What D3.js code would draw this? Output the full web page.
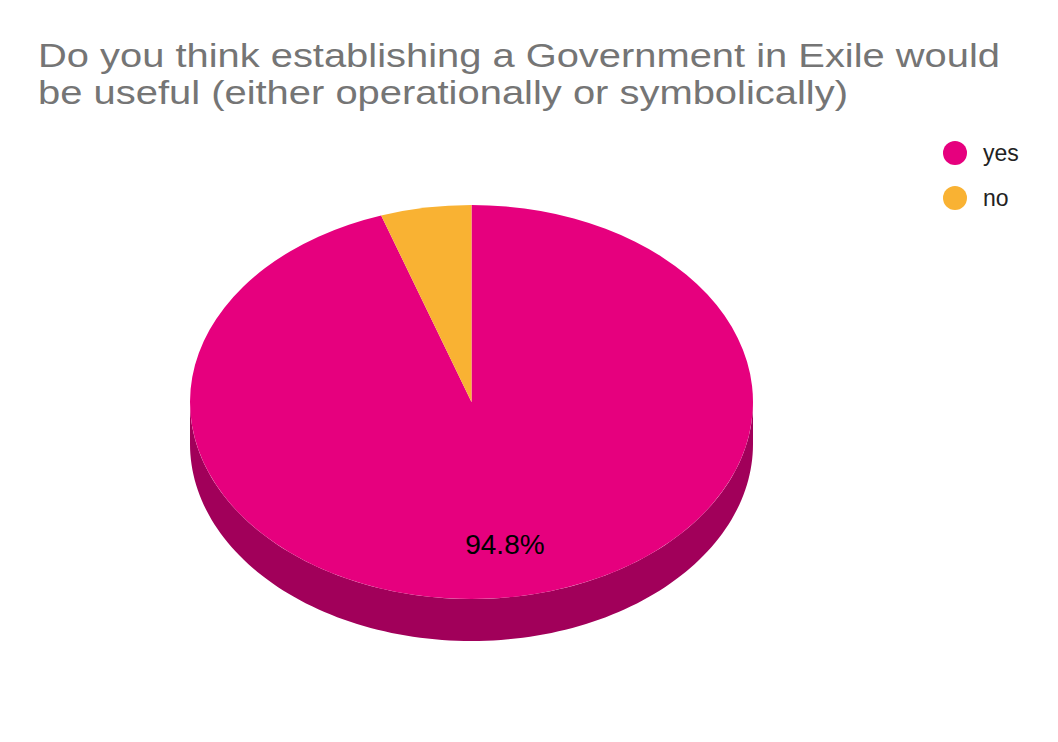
<!DOCTYPE html>
<html>
<head>
<meta charset="utf-8">
<script src="https://cdn.jsdelivr.net/npm/d3@7"></script>
<style>
  body { margin: 0; background: #fff; }
  text { font-family: "Liberation Sans", Arial, sans-serif; }
</style>
</head>
<body>
<svg width="1058" height="742"></svg>
<script>
const titleLines = [
	"Do you think establishing a Government in Exile would",
	"be useful (either operationally or symbolically)",
];
const titleWidths = [962, 810];
const categories = ["yes", "no"];
const shares = [94.8, 5.2];
const colors = ["#E6007E", "#F9B233"];
const sideColors = ["#A1005A", "#B07D24"];

const svg = d3.select("svg");

// title (reference font runs wider than Liberation, so stretch to its width)
svg.append("g")
	.selectAll("text")
	.data(titleLines)
	.join("text")
	.attr("x", 38)
	.attr("y", (d, i) => 67 + i * 37)
	.attr("font-size", 33)
	.attr("fill", "#757575")
	.attr("textLength", (d, i) => titleWidths[i])
	.attr("lengthAdjust", "spacingAndGlyphs")
	.text((d) => d);

// legend
const legend = svg.append("g").attr("transform", "translate(955,153)");
const items = legend
	.selectAll("g")
	.data(categories)
	.join("g")
	.attr("transform", (d, i) => `translate(0, ${i * 45})`);
items.append("circle").attr("r", 12).attr("fill", (d, i) => colors[i]);
items.append("text")
	.attr("x", 28)
	.attr("dy", "0.35em")
	.attr("font-size", 23)
	.attr("fill", "#222")
	.text((d) => d);

// 3D pie
const cx = 471.5, cy = 402, rx = 281.5, ry = 197, depth = 42;
const k = ry / rx;

const pie = d3.pie().sort(null).value((d) => d.value);
const arcs = pie(categories.map((c, i) => ({ name: c, value: shares[i], i })));

const ell = (a, dy = 0) => [cx + rx * Math.sin(a), cy - ry * Math.cos(a) + dy];
const line = d3.line();

// front side wall, clipped to visible half (angles pi/2..3pi/2)
const sideG = svg.append("g");
arcs.forEach((a) => {
	const s = Math.max(a.startAngle, Math.PI / 2);
	const e = Math.min(a.endAngle, Math.PI * 1.5);
	if (e <= s) return;
	const ts = d3.range(0, 121).map((j) => s + ((e - s) * j) / 120);
	const pts = ts.map((t) => ell(t)).concat(ts.slice().reverse().map((t) => ell(t, depth)));
	sideG.append("path")
		.attr("d", line(pts) + "Z")
		.attr("fill", sideColors[a.data.i]);
});

// top face
const arc = d3.arc().innerRadius(0).outerRadius(rx);
const topG = svg.append("g").attr("transform", `translate(${cx},${cy}) scale(1,${k})`);
topG.selectAll("path")
	.data(arcs)
	.join("path")
	.attr("d", arc)
	.attr("fill", (d) => colors[d.data.i]);

// labels
const labelArc = d3.arc().innerRadius(rx * 0.73).outerRadius(rx * 0.73);
svg.append("g")
	.selectAll("text")
	.data(arcs.filter((d) => d.data.value > 10))
	.join("text")
	.attr("x", (d) => cx + labelArc.centroid(d)[0])
	.attr("y", (d) => cy + labelArc.centroid(d)[1] * k)
	.attr("text-anchor", "middle")
	.attr("dy", "0.35em")
	.attr("font-size", 28)
	.attr("fill", "#000")
	.text((d) => d.data.value.toFixed(1) + "%");
</script>
</body>
</html>
